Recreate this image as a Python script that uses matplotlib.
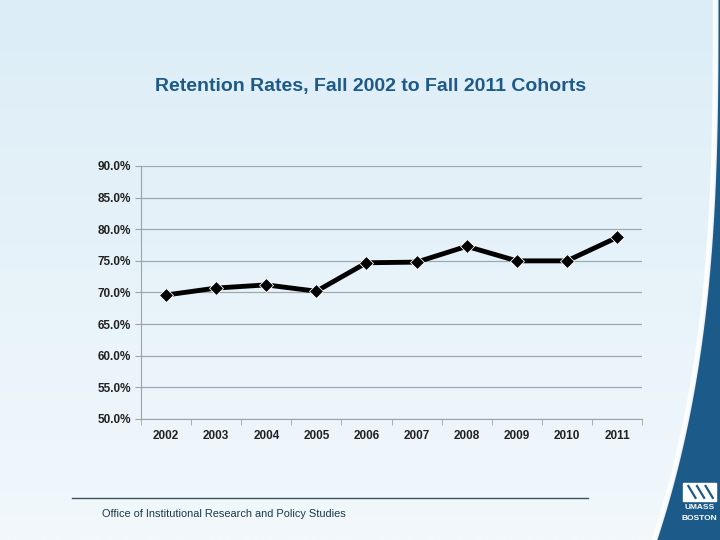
import numpy as np
import matplotlib.pyplot as plt
from matplotlib.patches import Polygon, Rectangle
from matplotlib.colors import LinearSegmentedColormap
from matplotlib.ticker import FuncFormatter

plt.rcParams['font.family'] = ['Liberation Sans', 'DejaVu Sans']

# retention rates per fall cohort
years = ['2002', '2003', '2004', '2005', '2006', '2007', '2008', '2009', '2010', '2011']
rates = [69.6, 70.7, 71.2, 70.2, 74.7, 74.8, 77.3, 75.0, 75.0, 78.7]

fig = plt.figure(figsize=(7.2, 5.4), dpi=100)

# background gradient
bg = fig.add_axes([0, 0, 1, 1], zorder=-10)
grad = np.linspace(0, 1, 256).reshape(-1, 1)
cmap = LinearSegmentedColormap.from_list('bg', ['#dcedf7', '#f2f8fc'])
bg.imshow(grad, aspect='auto', cmap=cmap, extent=[0, 1, 0, 1], origin='upper')
bg.set_xlim(0, 1)
bg.set_ylim(0, 1)
bg.axis('off')

# right swoosh (wide at the bottom, thin at the top)
t = np.linspace(0, 1, 80)
edge_x = 0.997 - 0.085 * (1 - t) ** 2.9
pts = list(zip(edge_x, t)) + [(1, 1), (1, 0)]
bg.add_patch(Polygon(pts, closed=True, color='#1c5a8a', zorder=2))
pts2 = list(zip(edge_x - 0.006, t)) + list(zip(edge_x[::-1], t[::-1]))
bg.add_patch(Polygon(pts2, closed=True, color='#ffffff', alpha=0.85, zorder=2))

# logo
bg.add_patch(Rectangle((0.949, 0.072), 0.046, 0.034, color='white', zorder=3))
for dx in [0.956, 0.968, 0.980]:
    bg.plot([dx, dx + 0.010], [0.100, 0.078], color='#1c5a8a', lw=1.6, zorder=4)
bg.text(0.972, 0.061, 'UMASS', color='white', fontsize=6, fontweight='bold',
        ha='center', va='center', zorder=4)
bg.text(0.972, 0.039, 'BOSTON', color='white', fontsize=6, fontweight='bold',
        ha='center', va='center', zorder=4)

# footer
bg.plot([0.1, 0.817], [0.078, 0.078], color='#3c5060', lw=1, zorder=3)
bg.text(0.142, 0.048, 'Office of Institutional Research and Policy Studies',
        fontsize=7.9, color='#1a3a4a', va='center', ha='left', zorder=3)

# title
fig.text(0.515, 0.84, 'Retention Rates, Fall 2002 to Fall 2011 Cohorts',
         fontsize=14, fontweight='bold', color='#1d5a88', ha='center', va='center')

ax = fig.add_axes([0.1958, 0.2241, 0.696, 0.4685])
ax.set_facecolor('none')
x = np.arange(len(years))
ax.plot(x, rates, color='black', lw=3.5, marker='D', markersize=7,
        markerfacecolor='black', markeredgecolor='white', markeredgewidth=0.6, zorder=3)

ax.set_xlim(-0.5, len(years) - 0.5)
ax.set_ylim(50, 90)
ax.set_yticks(np.arange(50, 91, 5))
ax.yaxis.set_major_formatter(FuncFormatter(lambda v, p: f'{v:.1f}%'))
ax.set_xticks(x)
ax.set_xticklabels(years)
ax.set_xticks(np.arange(-0.5, len(years), 1), minor=True)
ax.tick_params(axis='x', which='major', length=0, pad=8)
ax.tick_params(axis='x', which='minor', length=4, color='#9aa4ac', direction='out')
ax.tick_params(axis='y', length=4, color='#9aa4ac', pad=3)
for lab in ax.get_xticklabels() + ax.get_yticklabels():
    lab.set_fontsize(8.5)
    lab.set_fontweight('bold')
    lab.set_color('#222222')

ax.grid(axis='y', color='#9ea8b0', lw=0.9)
ax.set_axisbelow(True)
for s in ['top', 'right']:
    ax.spines[s].set_visible(False)
ax.spines['left'].set_color('#9aa4ac')
ax.spines['bottom'].set_color('#9aa4ac')

fig.savefig('out.png', dpi=100)
